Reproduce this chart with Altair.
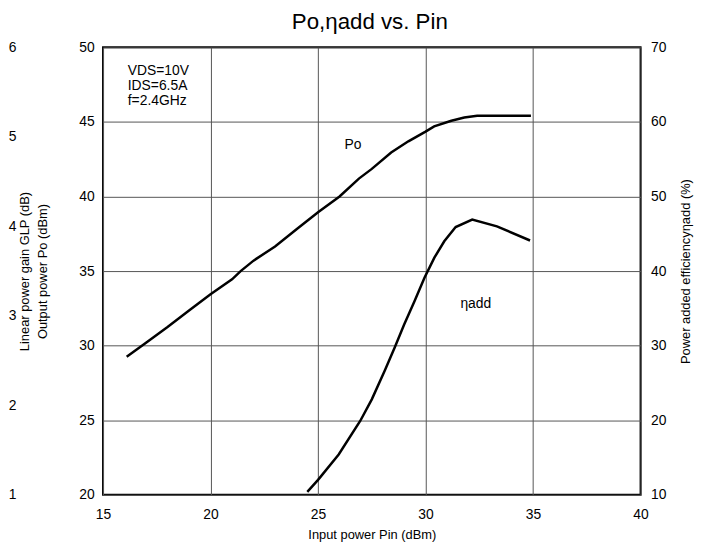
import altair as alt
import pandas as pd

# Output power Po (dBm) vs input power Pin (dBm)
po_pin = [16.1, 17.0, 18.0, 19.0, 20.0, 21.0, 21.4, 22.0, 23.0, 24.0, 25.0, 26.0, 26.9,
          27.5, 28.4, 29.2, 30.0, 30.4, 31.2, 31.8, 32.4, 33.5, 34.9]
po_val = [29.25, 30.2, 31.25, 32.35, 33.45, 34.45, 35.0, 35.7, 36.65, 37.8, 38.95, 40.0, 41.2,
          41.85, 42.95, 43.7, 44.35, 44.7, 45.08, 45.3, 45.41, 45.41, 45.41]

# Power added efficiency (%) vs Pin (dBm)
eta_pin = [24.5, 25.0, 25.96, 26.96, 27.5, 28.11, 28.57, 29.0, 29.49, 29.95, 30.41, 30.87,
           31.4, 32.17, 33.32, 34.86]
eta_val = [10.4, 12.0, 15.4, 19.9, 22.8, 26.7, 29.8, 32.8, 36.0, 39.1, 41.8, 44.0,
           45.9, 46.9, 46.0, 44.1]

# third (gain) axis: the digits visible at the left edge
glp_ticks = [1, 2, 3, 4, 5, 6]

x_ticks = [15, 20, 25, 30, 35, 40]
po_ticks = [20, 25, 30, 35, 40, 45, 50]
eta_ticks = [10, 20, 30, 40, 50, 60, 70]

# annotations (in Pin / Po data units)
ann_text = ["VDS=10V", "IDS=6.5A", "f=2.4GHz", "Po", "ηadd"]
ann_x = [16.15, 16.15, 16.15, 26.23, 31.62]
ann_y = [48.15, 47.15, 46.15, 43.17, 32.55]

FONT = "Liberation Sans"

po_df = pd.DataFrame({"pin": po_pin, "po": po_val})
eta_df = pd.DataFrame({"pin": eta_pin, "eta": eta_val})
glp_df = pd.DataFrame({"glp": glp_ticks})
ann_df = pd.DataFrame({"t": ann_text, "x": ann_x, "y": ann_y})

H = 452

x_enc = alt.X("pin:Q", scale=alt.Scale(domain=[15, 40], nice=False),
              axis=alt.Axis(values=x_ticks, title="Input power Pin (dBm)", grid=True,
                            gridColor="#555555", gridWidth=1, ticks=False, domain=False,
                            labelPadding=13, titlePadding=7, labelFlush=False))

po_line = alt.Chart(po_df).mark_line(color="black", strokeWidth=2.5).encode(
    x=x_enc,
    y=alt.Y("po:Q", scale=alt.Scale(domain=[20, 50], nice=False),
            axis=alt.Axis(orient="left", values=po_ticks, title="Output power Po (dBm)",
                          grid=True, gridColor="#555555", gridWidth=1, ticks=False,
                          domain=False, labelPadding=9, labelFlush=False,
                          titleX=-61, titleY=H / 2, titleAngle=270, titleAlign="center",
                          titleBaseline="middle"))
)

eta_line = alt.Chart(eta_df).mark_line(color="black", strokeWidth=2.5).encode(
    x=alt.X("pin:Q"),
    y=alt.Y("eta:Q", scale=alt.Scale(domain=[10, 70], nice=False),
            axis=alt.Axis(orient="right", values=eta_ticks,
                          title="Power added efficiencyηadd (%)",
                          grid=False, ticks=False, domain=False, labelPadding=10,
                          labelFlush=False,
                          titleX=45, titleY=H / 2, titleAngle=270, titleAlign="center",
                          titleBaseline="middle"))
)

glp_axis = alt.Chart(glp_df).mark_point(opacity=0).encode(
    y=alt.Y("glp:Q", scale=alt.Scale(domain=[1, 6], nice=False),
            axis=alt.Axis(orient="left", values=glp_ticks, offset=88,
                          title="Linear power gain GLP (dB)",
                          grid=False, ticks=False, domain=False, labelPadding=0,
                          labelFlush=False,
                          titleX=9, titleY=H / 2, titleAngle=270, titleAlign="center",
                          titleBaseline="middle"))
)

ann = alt.Chart(ann_df).mark_text(align="left", baseline="alphabetic", fontSize=14,
                                  font=FONT, color="black").encode(
    x=alt.X("x:Q"),
    y=alt.Y("y:Q", scale=alt.Scale(domain=[20, 50], nice=False), axis=None),
    text="t:N",
)

chart = alt.layer(po_line, eta_line, glp_axis, ann).resolve_scale(
    y="independent"
).properties(
    width=543,
    height=H,
    padding={"left": 0, "top": 0, "right": 5, "bottom": 5},
    title=alt.TitleParams("Po,ηadd vs. Pin", fontSize=22.5, font=FONT, fontWeight="normal",
                          anchor="middle", frame="group", offset=7, dx=-2,
                          color="black"),
).configure_view(
    stroke="black", strokeWidth=2
).configure_axis(
    labelFont=FONT, titleFont=FONT, labelFontSize=14, titleFontSize=13,
    labelColor="black", titleColor="black", titleFontWeight="normal"
)

chart.save("out.html", embed_options={"renderer": "svg", "actions": False})
